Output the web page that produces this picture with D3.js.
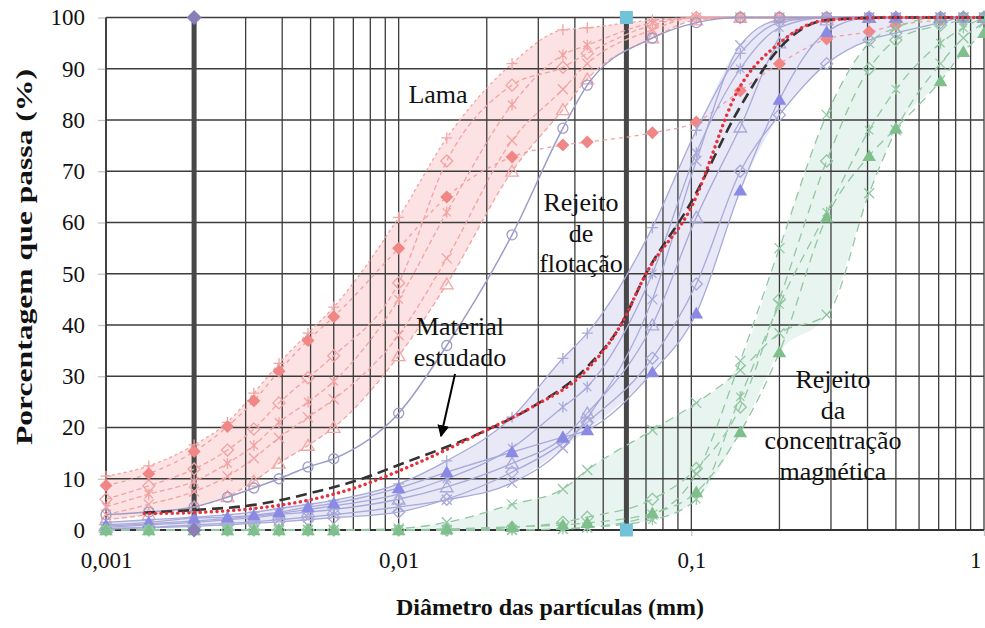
<!DOCTYPE html>
<html>
<head>
<meta charset="utf-8">
<script src="https://cdn.jsdelivr.net/npm/d3@7"></script>
<style>
  body { margin: 0; background: #fff; }
  svg { display: block; font-family: "Liberation Serif", "Times New Roman", serif; }
</style>
</head>
<body>
<svg id="chart" width="985" height="628"></svg>
<script>
// Particle diameters (mm) of the sieve / sedigraph readings
const sizes = [0.001, 0.0014, 0.002, 0.0026, 0.0032, 0.0039, 0.0049, 0.006, 0.01, 0.0146, 0.0244,
               0.0364, 0.0441, 0.0736, 0.104, 0.147, 0.2, 0.29, 0.405, 0.5, 0.71, 0.85, 1];

// Lama samples (% passing)
const lamaDiamond     = [8.7, 11, 15.3, 20.2, 25.2, 31, 37, 41.6, 55, 65, 72.8, 75.1, 75.7, 77.5, 79.6, 85.7, 91, 95.8, 97.2, 98.5, 99.5, 100, 100];
const lamaPlus        = [10.5, 12.5, 16.6, 21, 26.7, 32.5, 38.4, 43.5, 61, 76.5, 91, 97.6, 98, 99.5, 100, 100, 100, 100, 100, 100, 100, 100, 100];
const lamaOpenDiamond = [6, 8.6, 11.9, 15.6, 19.7, 24.8, 29.7, 34, 48.2, 72, 86.8, 90.3, 93, 98.5, 100, 100, 100, 100, 100, 100, 100, 100, 100];
const lamaAsterisk    = [4.5, 7, 9.5, 13, 16.5, 21, 25, 29, 45, 62, 83, 92.7, 94.6, 99, 100, 100, 100, 100, 100, 100, 100, 100, 100];
const lamaCross       = [3, 5, 7.5, 10.5, 14, 18, 22, 25.5, 38, 53, 76, 86, 91, 97.6, 100, 100, 100, 100, 100, 100, 100, 100, 100];
const lamaTriangle    = [2, 3, 4.5, 6.5, 9.5, 13, 16.5, 20, 34, 48, 70, 82, 88, 96, 99.5, 100, 100, 100, 100, 100, 100, 100, 100];
const lamaCircle      = [3, 3.5, 4.5, 6.4, 8.2, 10, 12.3, 13.9, 22.8, 36, 57.6, 78.4, 86.8, 96, 99, 100, 100, 100, 100, 100, 100, 100, 100];

// Rejeito de flotação samples (% passing)
const flotTriangle     = [1, 1.5, 2.3, 2.5, 2.9, 3.5, 4.5, 5.2, 8.2, 11.3, 15.2, 18.1, 19.5, 30.8, 42.3, 66.3, 84, 97.2, 100, 100, 100, 100, 100];
const flotOpenTriangle = [0.5, 1, 1.5, 2, 2.4, 3, 3.5, 4, 6, 8.4, 13, 18, 22.8, 40, 61, 78.6, 95, 99.5, 100, 100, 100, 100, 100];
const flotCross        = [0.3, 0.5, 1, 1.3, 1.6, 2, 2.5, 3, 4.5, 5.9, 9.2, 16, 21.9, 45, 72, 94.6, 99.5, 100, 100, 100, 100, 100, 100];
const flotAsterisk     = [0.8, 1.2, 1.8, 2.2, 2.7, 3.2, 4, 4.7, 7, 10, 16, 24, 27.9, 50, 73.6, 90, 98, 100, 100, 100, 100, 100, 100];
const flotPlus         = [1.5, 2, 2.5, 3, 3.5, 4.2, 5, 5.8, 9, 13.5, 22, 33.5, 38.4, 59, 78, 93, 99, 100, 100, 100, 100, 100, 100];
const flotOpenDiamond  = [0.2, 0.4, 0.7, 1, 1.3, 1.6, 2, 2.4, 3.5, 6, 11.3, 17, 21, 33.5, 48, 70, 81, 91, 95.6, 97, 99, 100, 100];

// Rejeito da concentração magnética samples (% passing)
const magTriangle    = [0, 0, 0, 0, 0, 0, 0, 0, 0, 0.2, 0.6, 1, 1.4, 3.3, 7.4, 19.1, 34.7, 61, 73, 78.4, 87.6, 93.3, 97];
const magCross       = [0, 0, 0, 0, 0, 0, 0, 0, 0.3, 1.5, 5, 8, 11.7, 19.5, 24.8, 31.2, 38.4, 42, 65.7, 78, 91, 96, 99];
const magCrossB      = [0, 0, 0, 0, 0, 0, 0, 0, 0, 0, 0, 0.2, 0.5, 3, 11, 33, 55, 81, 95, 98, 100, 100, 100];
const magOpenDiamond = [0, 0, 0, 0, 0, 0, 0, 0, 0, 0, 0.5, 1.5, 2.5, 6, 12, 24, 45, 72, 90, 95.6, 98.5, 99.5, 100];
const magAsterisk    = [0, 0, 0, 0, 0, 0, 0, 0, 0, 0, 0, 0.2, 0.5, 2, 6, 26, 44, 62, 78, 86, 95, 98, 100];

// Material estudado
const materialSizes  = [0.00135, 0.002, 0.0032, 0.004, 0.005, 0.0075, 0.01, 0.02, 0.0286, 0.0435, 0.0574, 0.07, 0.1, 0.145, 0.2, 0.29, 0.5, 1];
const materialDashed = [3.4, 3.9, 4.9, 5.9, 7.2, 10, 12.7, 19.5, 24, 31.5, 40, 50, 64, 82, 94, 99.5, 100, 100];
const materialDotted = [3.2, 3.4, 4.2, 4.9, 5.9, 8.7, 11.5, 19.5, 24, 31, 40, 50, 63, 86, 95, 99.5, 100, 100];

// Reference diameters (mm) marked with heavy vertical lines
const limitSizes = [0.002, 0.06];

// Axis ticks
const xTickValues = [0.001, 0.01, 0.1, 1];
const xTickLabels = ["0,001", "0,01", "0,1", "1"];
const yTickValues = [0, 10, 20, 30, 40, 50, 60, 70, 80, 90, 100];

const svg = d3.select("#chart");
const x = d3.scaleLog().domain([0.001, 1]).range([106, 984]);
const y = d3.scaleLinear().domain([0, 100]).range([530, 17.5]);

const pink = "#f2a3a3", lavender = "#a9a9da", green = "#93c7a3";

// --- shaded envelopes of each group ---
function envelope(group) {
  return sizes.map((s, i) => ({ s, lo: d3.min(group, v => v[i]), hi: d3.max(group, v => v[i]) }));
}
const area = d3.area().x(d => x(d.s)).y0(d => y(d.lo)).y1(d => y(d.hi)).curve(d3.curveMonotoneX);
const bands = [
  { group: [lamaPlus, lamaOpenDiamond, lamaAsterisk, lamaCross, lamaTriangle], fill: "#fcdfdf" },
  { group: [flotTriangle, flotOpenTriangle, flotCross, flotAsterisk, flotPlus, flotOpenDiamond], fill: "#e6e6f6" },
  { group: [magTriangle, magCross, magCrossB, magOpenDiamond, magAsterisk], fill: "#e6f3ed" }
];
const bandG = svg.append("g");
bands.forEach(b => {
  bandG.append("path").attr("d", area(envelope(b.group))).attr("fill", b.fill).attr("opacity", 0.9);
});

// --- grid ---
const gridG = svg.append("g").attr("stroke", "#3c3c3c").attr("stroke-width", 1.3);
x.ticks().forEach(t => {
  gridG.append("line").attr("x1", x(t)).attr("x2", x(t)).attr("y1", y(0)).attr("y2", y(100));
});
yTickValues.forEach(t => {
  gridG.append("line").attr("x1", x(0.001)).attr("x2", x(1)).attr("y1", y(t)).attr("y2", y(t));
});

// --- axes ---
const xAxis = svg.append("g").attr("transform", `translate(0,${y(0)})`)
  .call(d3.axisBottom(x).tickValues(xTickValues).tickFormat((d, i) => xTickLabels[i]).tickSize(6).tickPadding(16));
const yAxis = svg.append("g").attr("transform", `translate(${x(0.001)},0)`)
  .call(d3.axisLeft(y).tickValues(yTickValues).tickSize(8).tickPadding(13));
[xAxis, yAxis].forEach(a => {
  a.select(".domain").remove();
  a.selectAll(".tick line").attr("stroke", "#c4c4c4").attr("stroke-width", 1.3);
  a.selectAll(".tick text").attr("font-family", "Liberation Serif, serif").attr("font-size", 23).attr("fill", "#111");
});
// keep the last x label inside the frame
xAxis.selectAll(".tick text").filter(d => d === 1).attr("text-anchor", "end").attr("dx", -3);
svg.append("line").attr("x1", x(0.001)).attr("x2", x(1)).attr("y1", y(0)).attr("y2", y(0))
  .attr("stroke", "#333").attr("stroke-width", 2);
svg.append("line").attr("x1", x(0.001)).attr("x2", x(0.001)).attr("y1", y(0)).attr("y2", y(100))
  .attr("stroke", "#333").attr("stroke-width", 1.6);

// --- heavy reference lines ---
limitSizes.forEach(s => {
  svg.append("line").attr("x1", x(s)).attr("x2", x(s)).attr("y1", y(0)).attr("y2", y(100))
    .attr("stroke", "#474747").attr("stroke-width", 5);
});

// --- marker shapes ---
function shape(type, r) {
  switch (type) {
    case "diamond": return `M0,${-r}L${r},0L0,${r}L${-r},0Z`;
    case "triangle": return `M0,${-r}L${r * 1.05},${r * 0.8}L${-r * 1.05},${r * 0.8}Z`;
    case "square": return `M${-r},${-r}H${r}V${r}H${-r}Z`;
    case "circle": return d3.symbol(d3.symbolCircle, Math.PI * r * r)();
    case "plus": return `M${-r},0H${r}M0,${-r}V${r}`;
    case "cross": return `M${-r},${-r}L${r},${r}M${-r},${r}L${r},${-r}`;
    case "asterisk": { const k = r * 0.75; return `M0,${-r}V${r}M${-k},${-k}L${k},${k}M${-k},${k}L${k},${-k}`; }
  }
}

const line = d3.line().x(d => x(d[0])).y(d => y(d[1])).curve(d3.curveMonotoneX);

function drawSeries(xs, values, opt) {
  const g = svg.append("g");
  const pts = xs.map((s, i) => [s, values[i]]);
  g.append("path").attr("d", line(pts)).attr("fill", "none")
    .attr("stroke", opt.line).attr("stroke-width", opt.width || 1.3)
    .attr("stroke-dasharray", opt.dash || null).attr("opacity", opt.opacity || 1);
  if (opt.marker) {
    const filled = opt.filled;
    g.selectAll("path.m").data(pts).join("path").attr("class", "m")
      .attr("transform", d => `translate(${x(d[0])},${y(d[1])})`)
      .attr("d", shape(opt.marker, opt.r || 6))
      .attr("fill", filled ? opt.color : "none")
      .attr("stroke", filled ? "none" : opt.color)
      .attr("stroke-width", 1.3);
  }
}

// Lama
const lamaDash = "5,3";
drawSeries(sizes, lamaTriangle,    { line: pink, dash: lamaDash, marker: "triangle", color: pink, r: 6 });
drawSeries(sizes, lamaCross,       { line: pink, dash: lamaDash, marker: "cross", color: pink, r: 5 });
drawSeries(sizes, lamaAsterisk,    { line: pink, dash: lamaDash, marker: "asterisk", color: pink, r: 5.5 });
drawSeries(sizes, lamaOpenDiamond, { line: pink, dash: lamaDash, marker: "diamond", color: pink, r: 6 });
drawSeries(sizes, lamaPlus,        { line: pink, dash: "3,3", marker: "plus", color: pink, r: 5.5 });
drawSeries(sizes, lamaDiamond,     { line: "#f0a0a0", dash: "4,4", marker: "diamond", color: "#f08686", filled: true, r: 6.5 });

// Rejeito de flotação
drawSeries(sizes, flotOpenDiamond,  { line: lavender, marker: "diamond", color: lavender, r: 6 });
drawSeries(sizes, flotCross,        { line: lavender, marker: "cross", color: lavender, r: 5 });
drawSeries(sizes, flotAsterisk,     { line: lavender, marker: "asterisk", color: lavender, r: 5.5 });
drawSeries(sizes, flotPlus,         { line: lavender, marker: "plus", color: lavender, r: 5.5 });
drawSeries(sizes, flotOpenTriangle, { line: lavender, marker: "triangle", color: lavender, r: 6 });
drawSeries(sizes, flotTriangle,     { line: lavender, marker: "triangle", color: "#8a8ae4", filled: true, r: 6.5 });

// Rejeito da concentração magnética
const magDash = "9,6";
drawSeries(sizes, magCrossB,      { line: green, dash: magDash, marker: "cross", color: green, r: 5 });
drawSeries(sizes, magOpenDiamond, { line: green, dash: magDash, marker: "diamond", color: green, r: 6 });
drawSeries(sizes, magAsterisk,    { line: green, dash: magDash, marker: "asterisk", color: green, r: 5.5 });
drawSeries(sizes, magCross,       { line: green, dash: magDash, marker: "cross", color: green, r: 5 });
drawSeries(sizes, magTriangle,    { line: green, dash: magDash, marker: "triangle", color: "#7fbf8c", filled: true, r: 6.5 });

// Lama sample drawn with a solid line and open circles
drawSeries(sizes, lamaCircle, { line: "#9c9cc8", width: 1.5, marker: "circle", color: "#9c9cc8", r: 5 });

// Material estudado
drawSeries(materialSizes, materialDashed, { line: "#333", width: 2.6, dash: "11,6" });
svg.append("path")
  .attr("d", line(materialSizes.map((s, i) => [s, materialDotted[i]])))
  .attr("fill", "none").attr("stroke", "#e8303c").attr("stroke-width", 3.4)
  .attr("stroke-linecap", "round").attr("stroke-dasharray", "0.1,5.5");

// End markers of the reference lines
[[limitSizes[0], "diamond", "#8a7db8", 7.5], [limitSizes[1], "square", "#72c2da", 6.5]].forEach(([s, m, c, r]) => {
  [0, 100].forEach(v => {
    svg.append("path").attr("transform", `translate(${x(s)},${y(v)})`)
      .attr("d", shape(m, r)).attr("fill", c);
  });
});

// --- region labels ---
const labels = [
  { lines: ["Lama"], cx: 438, y0: 103 },
  { lines: ["Rejeito", "de", "flotação"], cx: 581, y0: 211 },
  { lines: ["Material", "estudado"], cx: 460, y0: 335 },
  { lines: ["Rejeito", "da", "concentração", "magnética"], cx: 833, y0: 388 }
];
labels.forEach(l => {
  l.lines.forEach((t, i) => {
    svg.append("text").attr("x", l.cx).attr("y", l.y0 + i * 30.5)
      .attr("text-anchor", "middle").attr("font-size", 26).attr("fill", "#111").text(t);
  });
});

// arrow pointing at the material curves
svg.append("defs").append("marker").attr("id", "head")
  .attr("viewBox", "0 0 10 10").attr("refX", 9).attr("refY", 5)
  .attr("markerWidth", 6).attr("markerHeight", 6).attr("orient", "auto-start-reverse")
  .append("path").attr("d", "M0,0L10,5L0,10Z").attr("fill", "#000");
svg.append("line").attr("x1", 455).attr("y1", 374).attr("x2", 441).attr("y2", 436)
  .attr("stroke", "#000").attr("stroke-width", 2).attr("marker-end", "url(#head)");

// --- axis titles ---
svg.append("text").attr("x", 550).attr("y", 615).attr("text-anchor", "middle")
  .attr("font-size", 24).attr("font-weight", "bold").attr("fill", "#111")
  .text("Diâmetro das partículas (mm)");
svg.append("text").attr("transform", "translate(32,257) rotate(-90)").attr("text-anchor", "middle")
  .attr("font-size", 24).attr("font-weight", "bold").attr("fill", "#111")
  .attr("textLength", 376).attr("lengthAdjust", "spacingAndGlyphs")
  .text("Porcentagem que passa (%)");
</script>
</body>
</html>
